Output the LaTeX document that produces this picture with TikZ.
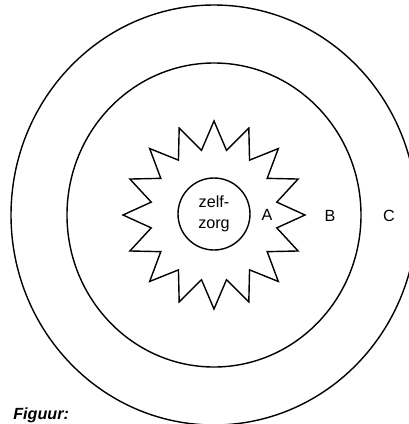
\documentclass[tikz,border=0pt]{standalone}
\usepackage{fontspec}
\setmainfont{Liberation Sans}
\begin{document}
\begin{tikzpicture}[x=0.25mm, y=-0.25mm,
    ring/.style={line width=1pt},
    zone/.style={font=\fontsize{11.5}{15}\selectfont, inner sep=0pt},
]
\useasboundingbox (0,0) rectangle (409,424);
\clip (0,0) rectangle (409,424);
% rings C and B
\draw[ring] (214,215) ellipse [x radius=203, y radius=210];
\draw[ring] (214,215) ellipse [x radius=147, y radius=152];
% star A
\draw[ring, line join=miter, shift={(214,215)}] (90:91 and 94)
   \foreach \k in {0,...,15} { -- ({101.25+22.5*\k}:64 and 66) -- ({112.5+22.5*\k}:91 and 94) } -- cycle;
\node[draw, circle, ring, zone, minimum size=18mm, align=center] (zelfzorg) at (214,214) {zelf-\\zorg};
\node[zone] (zoneA) at (267,215) {A};
\node[zone] (zoneB) at (330,216) {B};
\node[zone] (zoneC) at (389,216) {C};
\node[zone, font=\fontsize{11.5}{13}\selectfont\bfseries\itshape, anchor=south west] (caption) at (13,423) {Figuur:};
\end{tikzpicture}
\end{document}
